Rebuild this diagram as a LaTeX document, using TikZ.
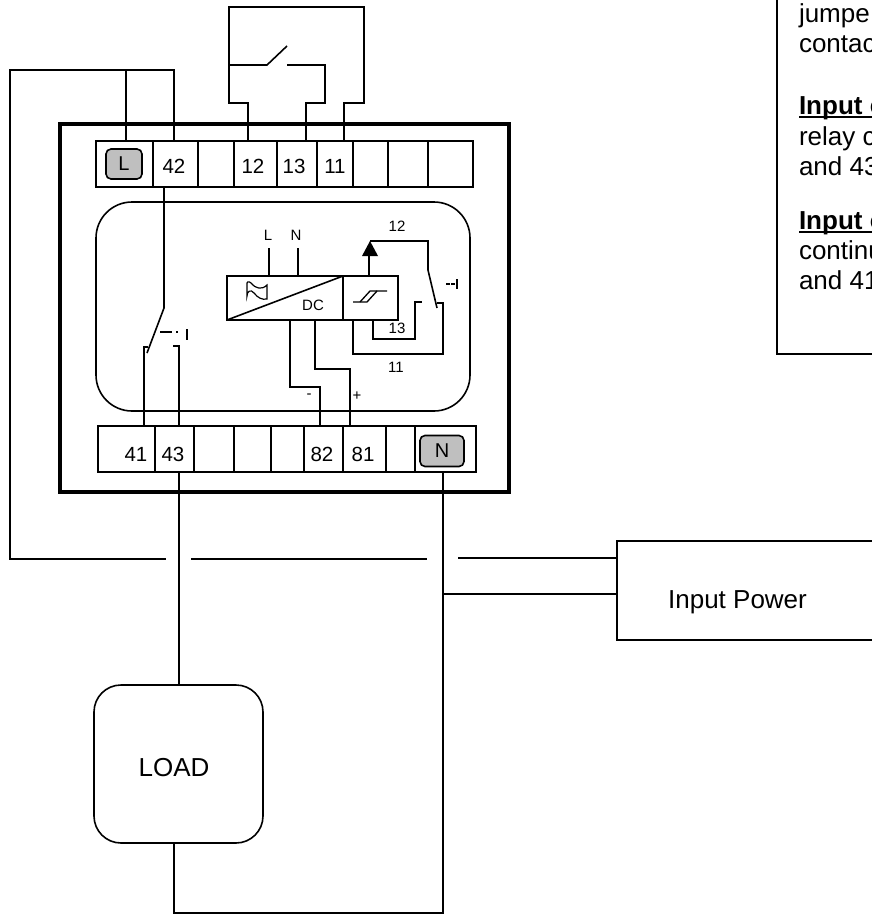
\documentclass[tikz,border=0pt]{standalone}
\usepackage{fontspec}
\setmainfont{Liberation Sans}
\tikzset{
  wire/.style={line width=1.6pt,line join=miter},
  cellbox/.style={draw,line width=1.6pt,rectangle,inner sep=0pt,outer sep=0pt},
  gbox/.style={draw,line width=1.6pt,rectangle,rounded corners=5pt,fill=black!25,inner sep=0pt,outer sep=0pt,font=\fontsize{20}{20}\selectfont},
  big/.style={inner sep=0pt,outer sep=0pt,font=\fontsize{20.5}{20.5}\selectfont},
  large/.style={inner sep=0pt,outer sep=0pt,anchor=base,font=\fontsize{26}{26}\selectfont},
  small/.style={inner sep=0pt,outer sep=0pt,font=\fontsize{15}{15}\selectfont},
  note/.style={inner sep=0pt,outer sep=0pt,anchor=base west,font=\fontsize{26}{26}\selectfont},
  notehead/.style={note,font=\fontsize{26}{26}\selectfont\bfseries},
}
\newcommand{\mycell}[5]{% name x1 x2 y1 y2
  \node[cellbox,minimum width=#3pt-#2pt,minimum height=#5pt-#4pt] (#1) at ({(#2+#3)/2},{(#4+#5)/2}) {};}
\begin{document}
\begin{tikzpicture}[x=1pt,y=-1pt]
\useasboundingbox (0,0) rectangle (872,916);
\begin{scope}
\clip (0,0) rectangle (872,916);
\fill[white] (0,0) rectangle (872,916);
% enclosure
\node[draw,line width=4pt,rectangle,inner sep=0pt,outer sep=0pt,minimum width=449pt,minimum height=368pt] (case) at (284.5,308) {};
% inner panel
\node[draw,line width=1.6pt,rectangle,rounded corners=36pt,inner sep=0pt,outer sep=0pt,minimum width=374pt,minimum height=209pt] (panel) at (283,306.5) {};
% top strip
\mycell{a1}{96}{153}{141}{187}
\mycell{a2}{153}{198}{141}{187}
\mycell{a3}{198}{234}{141}{187}
\mycell{a4}{234}{277}{141}{187}
\mycell{a5}{277}{317}{141}{187}
\mycell{a6}{317}{353}{141}{187}
\mycell{a7}{353}{388}{141}{187}
\mycell{a8}{388}{428}{141}{187}
\mycell{a9}{428}{473}{141}{187}
% bottom strip
\mycell{b1}{98}{155}{426}{472}
\mycell{b2}{155}{194}{426}{472}
\mycell{b3}{194}{234}{426}{472}
\mycell{b4}{234}{271}{426}{472}
\mycell{b5}{271}{304}{426}{472}
\mycell{b6}{304}{343}{426}{472}
\mycell{b7}{343}{386}{426}{472}
\mycell{b8}{386}{415}{426}{472}
\mycell{b9}{415}{476}{426}{472}
% terminals
\node[gbox,minimum width=36pt,minimum height=30pt] (L) at (124,164) {L};
\node[gbox,minimum width=44pt,minimum height=31pt] (N) at (442,451) {N};
\node[big] (l42) at (174,166) {42};
\node[big] (l12) at (253,166) {12};
\node[big] (l13) at (294,166) {13};
\node[big] (l11) at (335,166) {11};
\node[big] (l41) at (136,454) {41};
\node[big] (l43) at (173,454) {43};
\node[big] (l82) at (322,454) {82};
\node[big] (l81) at (363,454) {81};
% anchors on the strips
\coordinate (tL) at (126,141);
\coordinate (t42) at (174,141);
\coordinate (t12) at (248,141);
\coordinate (t13) at (306,141);
\coordinate (t11) at (344,141);
\coordinate (s42) at (164,187);
\coordinate (b41) at (144,426);
\coordinate (b43t) at (179,426);
\coordinate (b43) at (179,472);
\coordinate (b82) at (320,426);
\coordinate (b81) at (350,426);
\coordinate (bN) at (443,472);
% external switch
\draw[wire] (t12) -- (248,103) -- (229,103) -- (229,7) -- (364,7) -- (364,103) -- (344,103) -- (t11);
\draw[wire] (229,65) -- (267,65) -- (287,46);
\draw[wire] (287,65) -- (325,65) -- (325,103) -- (306,103) -- (t13);
% supply line
\coordinate (inA) at (617,558);
\coordinate (inB) at (617,594);
\draw[wire] (tL) -- (126,70);
\draw[wire] (t42) -- (174,70) -- (10,70) -- (10,559) -- (166,559);
\draw[wire] (191,559) -- (427,559);
\node[draw,line width=1.6pt,rectangle,inner sep=0pt,outer sep=0pt,minimum width=263pt,minimum height=99pt] (input) at (748.5,590.5) {};
\node[large] (intext) at (737.5,608) {Input Power};
\draw[wire] (458,558) -- (inA);
\draw[wire] (443,594) -- (inB);
% load
\node[draw,line width=1.6pt,rectangle,rounded corners=27pt,inner sep=0pt,outer sep=0pt,minimum width=169pt,minimum height=158pt] (load) at (178.5,764) {};
\node[large] (loadt) at (174,776) {LOAD};
\draw[wire] (b43) -- (179,685);
\draw[wire] (bN) -- (443,913) -- (174,913) -- (174,843);
% internal contact 42/41/43
\draw[wire] (s42) -- (164,308) -- (147,353);
\draw[wire] (148,347) -- (144,347) -- (b41);
\draw[wire] (173,346) -- (179,346) -- (b43t);
\draw[wire] (160,332) -- (172,332);
\draw[wire] (176,332) -- (178,332);
\draw[line width=2.4pt] (187,329) -- (187,340);
% relay block
\node[cellbox,minimum width=116pt,minimum height=44pt] (conv) at (285,298) {};
\node[cellbox,minimum width=55pt,minimum height=44pt] (trig) at (370.5,298) {};
\draw[wire] (conv.south west) -- (conv.north east);
\node[small] (dc) at (313,305) {DC};
\node[small] (tl) at (268,235) {L};
\node[small] (tn) at (296,235) {N};
\draw[wire] (269,248) -- (269,276);
\draw[wire] (298,248) -- (298,276);
\draw[line width=1.2pt] (247,286) .. controls (246,281) and (249,281) .. (251,283) .. controls (256,289) and (262,290) .. (267,285) -- (267,299) .. controls (262,300) and (258,298) .. (254,293) .. controls (251,289) and (247,291) .. (247,296) -- cycle;
% hysteresis symbol
\draw[line width=1.3pt] (353,302) -- (367,302) -- (377,291) -- (387,291);
\draw[line width=1.3pt] (360,302) -- (370,291) -- (377,291);
% wires to 82/81
\node[small] (minus) at (309,396) {-};
\node[small] (plus) at (357,396) {+};
\draw[wire] (290,320) -- (290,387) -- (320,387) -- (b82);
\draw[wire] (315,320) -- (315,369) -- (350,369) -- (b81);
% output contact of the block
\draw[wire] (369,276) -- (369,255);
\fill (362,256) -- (378,256) -- (370,241) -- cycle;
\draw[wire] (370,241) -- (428,241) -- (428,270) -- (437,308);
\draw[wire] (373,320) -- (373,339) -- (415,339) -- (415,302) -- (422,302);
\draw[wire] (353,320) -- (353,354) -- (443,354) -- (443,303) -- (437,303);
\node[small] (n12) at (397,226) {12};
\node[small] (n13) at (397,328) {13};
\node[small] (n11) at (396,367) {11};
\draw[line width=1.8pt] (446,284) -- (450,284);
\draw[line width=1.8pt] (451,284) -- (455,284);
\draw[line width=2.4pt] (457,279) -- (457,289);
% note box
\draw[line width=1.6pt] (777,-5) -- (777,354) -- (880,354);
\node[note] (n1) at (799,22) {jumpe};
\node[note] (n2) at (799,52.5) {contac};
\node[notehead] (n3) at (799,114) {Input c};
\draw[line width=2.6pt] (n3.base west) ++(0,3) -- (872,117);
\node[note] (n4) at (799,145) {relay c};
\node[note] (n5) at (799,175) {and 43};
\node[notehead] (n6) at (799,229) {Input c};
\draw[line width=2.6pt] (n6.base west) ++(0,3) -- (872,232);
\node[note] (n7) at (799,259) {continu};
\node[note] (n8) at (799,289) {and 41};
\end{scope}
\end{tikzpicture}
\end{document}
